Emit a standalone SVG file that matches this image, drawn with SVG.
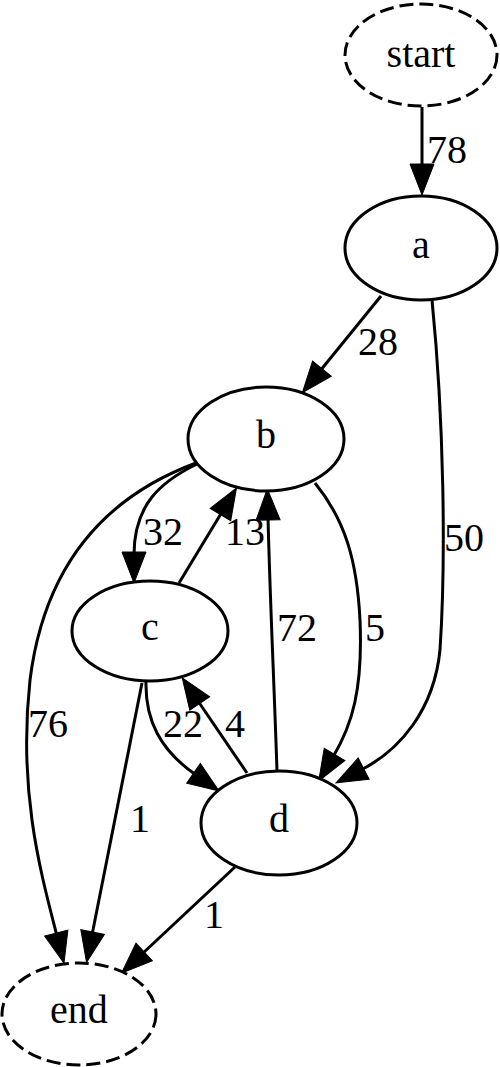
<svg xmlns="http://www.w3.org/2000/svg" width="500" height="1067" viewBox="0 0 500 1067">
<style>
.n{fill:#fff;stroke:#000;stroke-width:3}
.d{stroke-dasharray:14,6}
.t{font-family:"Liberation Serif","Times New Roman",serif;font-size:40px;fill:#000}
.m{text-anchor:middle}
.e{fill:none;stroke:#000;stroke-width:3;marker-end:url(#ah)}
</style>
<defs>
<marker id="ah" markerUnits="userSpaceOnUse" markerWidth="34" markerHeight="26" refX="3" refY="12" orient="auto" overflow="visible">
<path d="M0,0 L31,12 L0,24 z" fill="#000" stroke="#000" stroke-width="1"/>
</marker>
</defs>
<rect width="500" height="1067" fill="#fff"/>
<g id="edges">
<path class="e" d="M422,107 L422,167"/>
<path class="e" d="M381,296 L320,371"/>
<path class="e" d="M432,300 C444,420 446,560 440,650 C434,710 400,750 361,770"/>
<path class="e" d="M197,464 C160,482 134,505 134,555"/>
<path class="e" d="M179,583 L222,512"/>
<path class="e" d="M277,771 C274,680 270,600 268,517"/>
<path class="e" d="M315,483 C345,520 357,560 360,620 C363,690 352,725 333,757"/>
<path class="e" d="M146,681 C145,720 160,750 196,775"/>
<path class="e" d="M247,773 L198,701"/>
<path class="e" d="M196,463 C110,495 45,560 30,680 C18,790 40,870 57,936"/>
<path class="e" d="M142,683 L92,935"/>
<path class="e" d="M235,867 L142,954"/>
<text class="t" x="427" y="163">78</text>
<text class="t" x="358" y="355">28</text>
<text class="t" x="444" y="551">50</text>
<text class="t" x="143" y="545">32</text>
<text class="t" x="225" y="545">13</text>
<text class="t" x="277" y="641">72</text>
<text class="t" x="365" y="641">5</text>
<text class="t" x="163" y="737">22</text>
<text class="t" x="225" y="737">4</text>
<text class="t" x="28" y="737">76</text>
<text class="t" x="130" y="832">1</text>
<text class="t" x="204" y="928">1</text>
</g>
<g id="start"><ellipse class="n d" cx="421" cy="55" rx="76" ry="51"/><text class="t m" x="421" y="67">start</text></g>
<g id="a"><ellipse class="n" cx="421" cy="248" rx="76" ry="52"/><text class="t m" x="421" y="258">a</text></g>
<g id="b"><ellipse class="n" cx="266" cy="439" rx="78" ry="52"/><text class="t m" x="266" y="448">b</text></g>
<g id="c"><ellipse class="n" cx="150" cy="631" rx="78" ry="50"/><text class="t m" x="150" y="640">c</text></g>
<g id="d"><ellipse class="n" cx="279" cy="823" rx="78" ry="52"/><text class="t m" x="279" y="832">d</text></g>
<g id="end"><ellipse class="n d" cx="79" cy="1014" rx="77" ry="51"/><text class="t m" x="79" y="1023">end</text></g>
</svg>
